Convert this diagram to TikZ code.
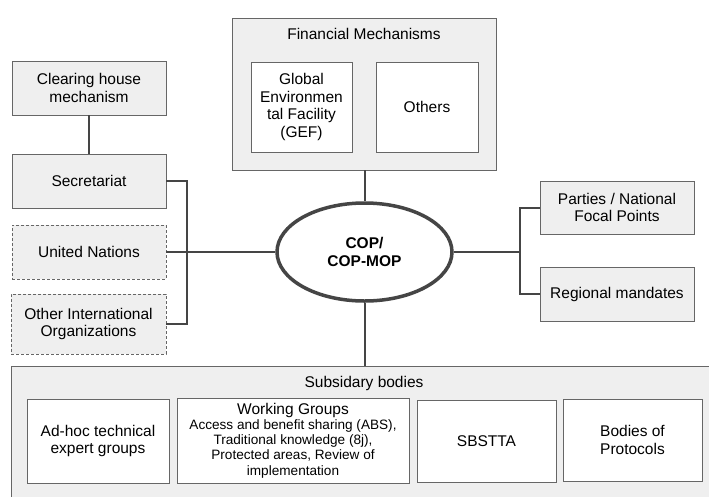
\documentclass[tikz,border=0pt]{standalone}
\usepackage{fontspec}
\setmainfont{Liberation Sans}
\usetikzlibrary{shapes.geometric}
\definecolor{boxfill}{HTML}{EFEFEF}
\definecolor{boxline}{HTML}{666666}
\definecolor{conn}{HTML}{454545}
\tikzset{
  graybox/.style={draw=boxline, fill=boxfill, line width=0.9pt, inner sep=0pt, align=center,
    font=\fontsize{15.5}{17.5}\selectfont},
  dashbox/.style={graybox, dashed, dash pattern=on 3pt off 2pt},
  whitebox/.style={draw=boxline, fill=white, line width=0.9pt, inner sep=0pt, align=center,
    font=\fontsize{15.5}{17.5}\selectfont},
  conline/.style={draw=conn, line width=2pt},
  titletext/.style={inner sep=0pt, font=\fontsize{15.5}{17.5}\selectfont},
}
\begin{document}
\begin{tikzpicture}[x=1pt,y=-1pt]
\useasboundingbox (0,0) rectangle (709,496);
% containers
\node[graybox, minimum width=264pt, minimum height=152pt] (fin) at (364,94) {};
\node[titletext] (fintitle) at (364,34) {Financial Mechanisms};
\node[whitebox, minimum width=101pt, minimum height=90pt] (gef) at (301.5,107) {Global\\Environmen\\tal Facility\\(GEF)};
\node[whitebox, minimum width=102pt, minimum height=90pt] (others) at (427,107) {Others};

\node[graybox, minimum width=706pt, minimum height=150pt, anchor=north west] (sub) at (11,366) {};
\node[titletext] (subtitle) at (364,383) {Subsidary bodies};
\node[whitebox, minimum width=142pt, minimum height=84pt] (adhoc) at (98,441) {Ad-hoc technical\\expert groups};
\node[whitebox, minimum width=232pt, minimum height=85pt] (wg) at (293,440.5) {};
\node[titletext, anchor=base] (wgtitle) at (293,414) {Working Groups};
\node[inner sep=0pt, align=center, font=\fontsize{13.6}{15.3}\selectfont, anchor=base] (wgtext) at (293,475) {Access and benefit sharing (ABS),\\Traditional knowledge (8j),\\Protected areas, Review of\\implementation};
\node[whitebox, minimum width=139pt, minimum height=82pt] (sbstta) at (486.5,441) {SBSTTA};
\node[whitebox, minimum width=139pt, minimum height=82pt] (bodies) at (632.5,440) {Bodies of\\Protocols};

% left column
\node[graybox, minimum width=154pt, minimum height=54pt] (chm) at (89,88) {Clearing house\\mechanism};
\node[graybox, minimum width=154pt, minimum height=54pt] (sec) at (89,181) {Secretariat};
\node[dashbox, minimum width=154pt, minimum height=54pt] (un) at (89,252) {United Nations};
\node[dashbox, minimum width=155pt, minimum height=60pt] (oio) at (88.5,324) {Other International\\Organizations};

% right column
\node[graybox, minimum width=154pt, minimum height=53pt] (parties) at (617,207.5) {Parties / National\\Focal Points};
\node[graybox, minimum width=154pt, minimum height=54pt] (regional) at (617,294) {Regional mandates};

% centre
\node[ellipse, draw=conn, line width=3.5pt, fill=white, minimum width=175pt, minimum height=98pt,
  inner sep=0pt, align=center, font=\bfseries\fontsize{15.5}{18}\selectfont] (cop) at (364.5,252) {COP/\\COP-MOP};

\coordinate (lbar) at (187,0);
\coordinate (rbar) at (520,0);

% connectors
\draw[conline] (chm.south) -- (sec.north);
\draw[conline] (sec.east) -- (sec.east -| lbar) -- (oio.east -| lbar) -- (oio.east);
\draw[conline] (un.east) -- (cop.west);
\draw[conline] (fin.south -| cop.north) -- (cop.north);
\draw[conline] (cop.south) -- (cop.south |- sub.north);
\draw[conline] (cop.east) -- (cop.east -| rbar);
\draw[conline] (parties.west) -- (parties.west -| rbar) -- (regional.west -| rbar) -- (regional.west);
\end{tikzpicture}
\end{document}
